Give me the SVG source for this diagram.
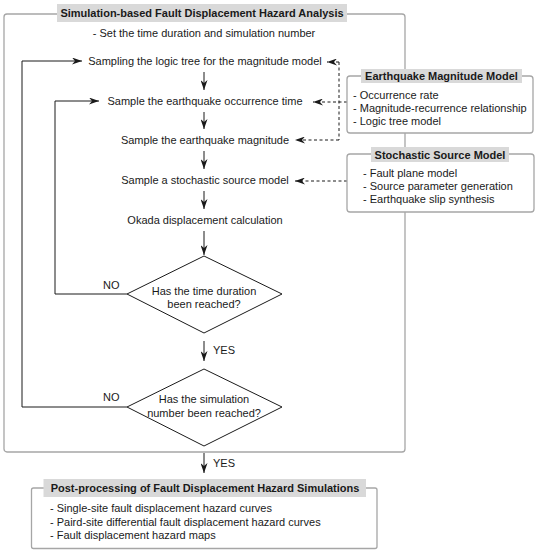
<svg xmlns="http://www.w3.org/2000/svg" width="537" height="550" viewBox="0 0 537 550">
<style>
text{font-family:"Liberation Sans",Arial,sans-serif;font-size:11px;fill:#1a1a1a}
.b{font-weight:bold}
.m{text-anchor:middle}
.frame{fill:#fff;stroke:#a6a6a6;stroke-width:1.3}
.tbg{fill:#d9d9d9}
.ln{fill:none;stroke:#1a1a1a;stroke-width:1}
.dl{fill:none;stroke:#1a1a1a;stroke-width:1;stroke-dasharray:3 2.5}
.gl{fill:none;stroke:#a6a6a6;stroke-width:1.3}
</style>
<defs>
<marker id="ah" viewBox="0 0 10 7" refX="10" refY="3.5" markerWidth="10" markerHeight="7" orient="auto" markerUnits="userSpaceOnUse">
<path d="M0,0 L10,3.5 L0,7 L3,3.5 Z" fill="#1a1a1a"/>
</marker>
</defs>
<g id="main">
<rect class="frame" x="4" y="14" width="401" height="438" rx="3"/>
<rect class="tbg" x="57" y="4" width="290" height="18"/>
<text class="b m" x="202" y="17">Simulation-based Fault Displacement Hazard Analysis</text>
<text class="m" x="204" y="37">- Set the time duration and simulation number</text>
</g>
<g id="connectors">
<line class="ln" x1="204" y1="72" x2="204" y2="90" marker-end="url(#ah)"/>
<line class="ln" x1="204" y1="112" x2="204" y2="129" marker-end="url(#ah)"/>
<line class="ln" x1="204" y1="151" x2="204" y2="169" marker-end="url(#ah)"/>
<line class="ln" x1="204" y1="191" x2="204" y2="209" marker-end="url(#ah)"/>
<line class="ln" x1="204" y1="231" x2="204" y2="255" marker-end="url(#ah)"/>
<line class="ln" x1="204" y1="341" x2="204" y2="361" marker-end="url(#ah)"/>
<line class="ln" x1="204" y1="453" x2="204" y2="473" marker-end="url(#ah)"/>
<polyline class="ln" points="127,294 55,294 55,101 99,101" marker-end="url(#ah)"/>
<polyline class="ln" points="127,407 22,407 22,61 82,61" marker-end="url(#ah)"/>
<line class="dl" x1="339" y1="62" x2="339" y2="140"/>
<line class="dl" x1="339" y1="62" x2="327" y2="62" marker-end="url(#ah)"/>
<line class="dl" x1="347" y1="102" x2="313" y2="102" marker-end="url(#ah)"/>
<line class="dl" x1="339" y1="140" x2="295" y2="140" marker-end="url(#ah)"/>
<line class="dl" x1="347" y1="181" x2="295" y2="181" marker-end="url(#ah)"/>
<text x="213" y="354">YES</text>
<text x="213" y="467">YES</text>
<text x="103" y="289">NO</text>
<text x="103" y="401">NO</text>
</g>
<g id="step1"><text class="m" x="205" y="65">Sampling the logic tree for the magnitude model</text></g>
<g id="step2"><text class="m" x="205" y="105">Sample the earthquake occurrence time</text></g>
<g id="step3"><text class="m" x="205" y="144">Sample the earthquake magnitude</text></g>
<g id="step4"><text class="m" x="205" y="184">Sample a stochastic source model</text></g>
<g id="step5"><text class="m" x="205" y="224">Okada displacement calculation</text></g>
<g id="decision1">
<polygon class="ln" fill="#fff" points="204,256 282,294 204,333 127,294"/>
<text class="m" x="204" y="295">Has the time duration</text>
<text class="m" x="204" y="308">been reached?</text>
</g>
<g id="decision2">
<polygon class="ln" fill="#fff" points="204,369 282,407 204,446 127,407"/>
<text class="m" x="204" y="403">Has the simulation</text>
<text class="m" x="204" y="417">number been reached?</text>
</g>
<g id="magnitudeModel">
<rect class="frame" x="347" y="76" width="186" height="57" rx="3"/>
<rect class="tbg" x="361" y="69" width="161" height="14"/>
<text class="b m" x="441.5" y="80">Earthquake Magnitude Model</text>
<text x="353" y="99">- Occurrence rate</text>
<text x="353" y="112">- Magnitude-recurrence relationship</text>
<text x="353" y="125">- Logic tree model</text>
</g>
<g id="stochasticModel">
<rect class="frame" x="347" y="154" width="187" height="58" rx="3"/>
<rect class="tbg" x="371" y="147" width="138" height="15"/>
<text class="b m" x="440" y="158.5">Stochastic Source Model</text>
<text x="363" y="177">- Fault plane model</text>
<text x="363" y="190">- Source parameter generation</text>
<text x="363" y="203">- Earthquake slip synthesis</text>
</g>
<g id="postProcessing">
<rect class="frame" x="31.5" y="488" width="345.5" height="60.5" rx="2"/>
<rect class="tbg" x="43.5" y="479" width="322.5" height="18"/>
<text class="b m" x="205" y="492">Post-processing of Fault Displacement Hazard Simulations</text>
<text x="50" y="512">- Single-site fault displacement hazard curves</text>
<text x="50" y="526">- Paird-site differential fault displacement hazard curves</text>
<text x="50" y="539">- Fault displacement hazard maps</text>
</g>
</svg>
